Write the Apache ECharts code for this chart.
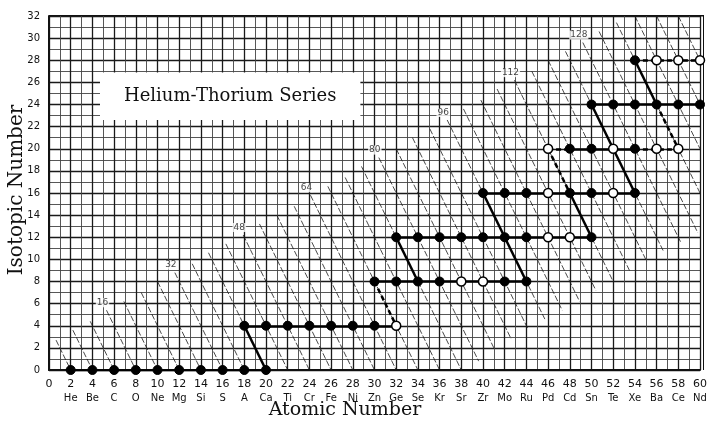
<!DOCTYPE html>
<html><head><meta charset="utf-8">
<script src="https://cdn.jsdelivr.net/npm/echarts@6/dist/echarts.min.js"></script>
<style>html,body{margin:0;padding:0;background:#fff}#c{width:710px;height:423px}</style>
</head><body><div id="c"></div>
<script>
// ---- data ----
const atomicTicks = [0,2,4,6,8,10,12,14,16,18,20,22,24,26,28,30,32,34,36,38,40,42,44,46,48,50,52,54,56,58,60];
const elementSymbols = ['', 'He','Be','C','O','Ne','Mg','Si','S','A','Ca','Ti','Cr','Fe','Ni','Zn','Ge','Se','Kr','Sr','Zr','Mo','Ru','Pd','Cd','Sn','Te','Xe','Ba','Ce','Nd'];
const isotopicTicks = [0,2,4,6,8,10,12,14,16,18,20,22,24,26,28,30,32];

// [atomic number, isotopic number]
const filledPoints = [
  [2,0],[4,0],[6,0],[8,0],[10,0],[12,0],[14,0],[16,0],[18,0],[20,0],
  [18,4],[20,4],[22,4],[24,4],[26,4],[28,4],[30,4],
  [30,8],[32,8],[34,8],[36,8],[42,8],[44,8],
  [32,12],[34,12],[36,12],[38,12],[40,12],[42,12],[44,12],[50,12],
  [40,16],[42,16],[44,16],[48,16],[50,16],[54,16],
  [48,20],[50,20],[54,20],
  [50,24],[52,24],[54,24],[56,24],[58,24],[60,24],
  [54,28]
];
const openPoints = [
  [32,4],
  [38,8],[40,8],
  [46,12],[48,12],
  [46,16],[52,16],
  [46,20],[52,20],[56,20],[58,20],
  [56,28],[58,28],[60,28]
];
const solidLinks = [
  [[2,0],[20,0]], [[18,4],[32,4]], [[30,8],[44,8]], [[32,12],[50,12]],
  [[40,16],[54,16]], [[48,20],[54,20]], [[50,24],[60,24]],
  [[18,4],[20,0]], [[32,12],[34,8]], [[40,16],[44,8]], [[48,16],[50,12]],
  [[50,24],[54,16]], [[54,28],[56,24]]
];
const dashedLinks = [
  [[46,20],[48,20]], [[54,20],[58,20]], [[54,28],[60,28]],
  [[30,8],[32,4]], [[46,20],[48,16]], [[56,24],[58,20]]
];
// constant mass-number guide lines (isotopic = mass - 2 * atomic)
const massNumbers = [4,8,12,16,20,24,28,32,36,40,44,48,52,56,60,64,68,72,76,80,84,88,92,96,100,104,108,112,116,120,124,128,132,136,140,144,148];
const massLineTopZ = [0.65,2.2,3.8,5.3,6.9,8.5,10.0,11.6,13.2,14.7,16.3,17.9,19.4,21.0,22.6,24.1,25.7,27.3,28.8,30.4,32.0,33.5,35.1,36.7,38.2,39.8,41.3,42.9,44.5,46.0,47.6,49.2,50.7,52.3,54.0,56.0,58.0];
const massLineBottomZ = [2,4,6,8,10,12,14,16,18,20,22,24,26,28,30,32,34,36,38,39.6,41.0,42.6,44.1,45.7,47.3,48.9,50.4,52.0,53.5,55.1,56.6,58.2,59.8,60,60,60,60];
const labelledMasses = [16,32,48,64,80,96,112,128];

// ---- build ----
const symbolOf = {};
atomicTicks.forEach((v,i)=>symbolOf[v]=elementSymbols[i]);
const guideLines = massNumbers.map((A,i)=>({coords:[[massLineTopZ[i], A-2*massLineTopZ[i]],[massLineBottomZ[i], A-2*massLineBottomZ[i]]]}));
const guideLabels = labelledMasses.map(A=>{const i=massNumbers.indexOf(A);const z=massLineTopZ[i];return {value:[z, A-2*z], name:String(A)};});

const chart = echarts.init(document.getElementById('c'), null, {renderer:'canvas'});
const font = 'DejaVu Sans';
chart.setOption({
  animation:false,
  backgroundColor:'#fff',
  grid:{left:49, top:16, width:654, height:354},
  xAxis:{
    type:'value', min:0, max:60, interval:2,
    axisLine:{show:true, lineStyle:{color:'#111', width:2}},
    axisTick:{show:false},
    splitLine:{show:true, lineStyle:{color:'#1a1a1a', width:1.3}},
    minorTick:{show:false, splitNumber:2},
    minorSplitLine:{show:true, lineStyle:{color:'#444', width:0.9}},
    axisLabel:{margin:7, fontFamily:font, color:'#111',
      formatter:v=>'{n|'+v+'}\n{e|'+(symbolOf[v]||' ')+'}',
      rich:{n:{fontSize:11, lineHeight:14, fontFamily:font, color:'#111'}, e:{fontSize:10, lineHeight:15, fontFamily:font, color:'#111'}}}
  },
  yAxis:{
    type:'value', min:0, max:32, interval:2,
    axisLine:{show:true, lineStyle:{color:'#111', width:2}},
    axisTick:{show:false},
    splitLine:{show:true, lineStyle:{color:'#1a1a1a', width:1.3}},
    minorTick:{show:false, splitNumber:2},
    minorSplitLine:{show:true, lineStyle:{color:'#444', width:0.9}},
    axisLabel:{margin:9, fontSize:10, fontFamily:font, color:'#111'}
  },
  graphic:[
    {type:'rect', shape:{x:703, y:16, width:1, height:354}, style:{fill:'#111'}},
    {type:'rect', shape:{x:49, y:15, width:655, height:1.5}, style:{fill:'#111'}},
    {type:'text', x:17, y:190, rotation:Math.PI/2, style:{text:'Isotopic Number', font:'20px "DejaVu Serif"', fill:'#111', textAlign:'center', textVerticalAlign:'middle'}},
    {type:'text', x:345, y:410, style:{text:'Atomic Number', font:'19px "DejaVu Serif"', fill:'#111', textAlign:'center', textVerticalAlign:'middle'}}
  ],
  series:[
    {type:'lines', coordinateSystem:'cartesian2d', z:2, silent:true,
      lineStyle:{color:'#1a1a1a', width:0.8, type:[6,2], opacity:1},
      data:guideLines,
      markArea:{silent:true, itemStyle:{color:'#fff', opacity:1},
        label:{show:true, position:'inside', formatter:'Helium-Thorium Series', fontFamily:'DejaVu Serif', fontSize:18, color:'#111'},
        data:[[{coord:[4.7,26.9]},{coord:[28.7,22.6]}]]}
    },
    {type:'scatter', z:3, silent:true, symbolSize:0, data:guideLabels,
      label:{show:true, position:'top', distance:3, offset:[-4,0], formatter:p=>p.name, fontFamily:font, fontSize:9, color:'#111', backgroundColor:'#fff', padding:[0,1]}},
    {type:'lines', coordinateSystem:'cartesian2d', z:4, silent:true,
      lineStyle:{color:'#000', width:2.5, type:'solid', opacity:1}, data:solidLinks.map(c=>({coords:c}))},
    {type:'lines', coordinateSystem:'cartesian2d', z:4, silent:true,
      lineStyle:{color:'#000', width:2.5, type:[5,3], opacity:1}, data:dashedLinks.map(c=>({coords:c}))},
    {type:'scatter', z:5, symbol:'circle', symbolSize:9, itemStyle:{color:'#000', borderColor:'#000', borderWidth:1, opacity:1}, data:filledPoints},
    {type:'scatter', z:5, symbol:'circle', symbolSize:9, itemStyle:{color:'#fff', borderColor:'#000', borderWidth:1.5, opacity:1}, data:openPoints}
  ]
});
</script></body></html>
